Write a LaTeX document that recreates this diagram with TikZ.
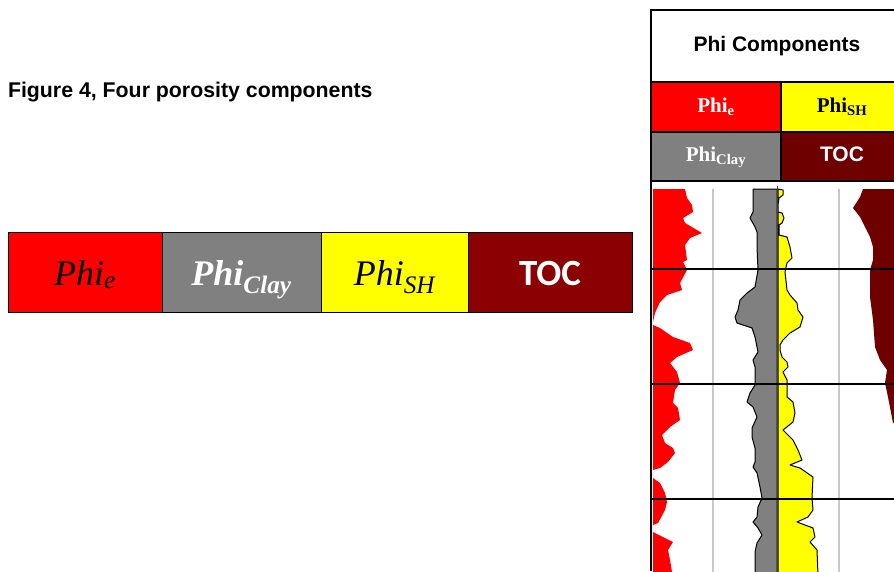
\documentclass[tikz,border=0pt]{standalone}
\usepackage{fontspec}
\setmainfont{Liberation Serif}
\setsansfont{Liberation Sans}
\newfontfamily\calfont{Carlito}
\usepackage{tikz}
\usetikzlibrary{positioning}
\definecolor{phired}{RGB}{255,0,0}
\definecolor{phigray}{RGB}{128,128,128}
\definecolor{phiyellow}{RGB}{255,255,0}
\definecolor{tocred}{RGB}{139,0,0}
\definecolor{tocdark}{RGB}{110,0,0}
\definecolor{gridgray}{RGB}{200,200,200}
\tikzset{%
	compbox/.style={draw, rectangle, minimum height=80, inner sep=0mm, outer sep=0pt, line width=1pt,%
		text height=26pt, text depth=0pt, font=\fontsize{36}{40}\selectfont\itshape},
	cell/.style={draw, rectangle, minimum width=130, minimum height=50, inner sep=0mm, outer sep=0pt,%
		line width=1.5pt, text height=12pt, text depth=2pt, font=\fontsize{21}{24}\selectfont\bfseries},
	header/.style={draw, rectangle, minimum width=252, minimum height=72, inner sep=0mm, outer sep=0pt,%
		line width=1.5pt, font=\sffamily\fontsize{21}{24}\selectfont\bfseries},
	gridline/.style={gridgray, line width=1.6pt},
	depthline/.style={black, line width=1.3pt},
	logcurve/.style={draw=black, line width=1pt, line join=round}
}
\begin{document}
\begin{tikzpicture}[x=1pt, y=-1pt]
	\useasboundingbox (0,0) rectangle (894,571);
	\clip (0,0) rectangle (894,571);
	\fill[white] (0,0) rectangle (894,571);

	\node[anchor=west, font=\sffamily\fontsize{21.3}{24}\selectfont\bfseries] (title) at (4.5,92) {Figure 4, Four porosity components};

	\node[compbox, fill=phired, minimum width=154, anchor=north west] (lphie) at (8,232) {Phi\textsubscript{e}};
	\node[compbox, fill=phigray, minimum width=159, right=0pt of lphie, text=white,%
		font=\fontsize{36}{40}\selectfont\bfseries\itshape] (lclay) {Phi\textsubscript{Clay}};
	\node[compbox, fill=phiyellow, minimum width=147, right=0pt of lclay] (lsh) {Phi\textsubscript{SH}};
	\node[compbox, fill=tocred, minimum width=164, right=0pt of lsh, text=white,%
		font=\calfont\fontsize{37}{40}\selectfont\bfseries] (ltoc) {TOC};

	\node[header, fill=white, anchor=north west] (comp) at (651,10) {Phi Components};
	\node[cell, fill=phired, text=white, below=0pt of comp.south west, anchor=north west] (cphie) {Phi\textsubscript{e}};
	\node[cell, fill=phiyellow, right=0pt of cphie, minimum width=122] (csh) {Phi\textsubscript{SH}};
	\node[cell, fill=phigray, text=white, below=0pt of cphie, minimum height=49] (cclay) {Phi\textsubscript{Clay}};
	\node[cell, fill=tocdark, text=white, right=0pt of cclay, minimum width=122, minimum height=49,%
		font=\sffamily\fontsize{21}{24}\selectfont\bfseries] (ctoc) {TOC};

	\coordinate (tracktop) at (651,189);
	\coordinate (trackbot) at (651,571);

	\fill[phired] (653,189) -- (685,189) -- (687,198) -- (692,205) -- (693,212) -- (683,218) -- (685,223)
		-- (702,233) -- (690,238) -- (685,245) -- (687,260) -- (683,262) -- (687,270) -- (680,283)
		-- (682,290) -- (667,295) -- (660,302) -- (655,313) -- (653,322) -- (653,325) -- (660,328)
		-- (673,337) -- (690,343) -- (693,350) -- (677,357) -- (670,363) -- (677,372) -- (680,383)
		-- (675,390) -- (673,403) -- (678,408) -- (680,420) -- (670,427) -- (662,435) -- (665,443)
		-- (673,448) -- (675,453) -- (668,462) -- (660,468) -- (653,470) -- (653,478) -- (660,483)
		-- (665,493) -- (667,502) -- (665,510) -- (658,523) -- (653,525) -- (653,532) -- (663,537)
		-- (673,542) -- (668,550) -- (670,560) -- (672,572) -- (653,572) -- cycle;

	\draw[logcurve, fill=phigray] (753,189) -- (753,212) -- (750,218) -- (755,227) -- (757,232) -- (757,247)
		-- (758,270) -- (755,287) -- (747,293) -- (740,300) -- (738,310) -- (735,317) -- (737,323)
		-- (752,328) -- (755,337) -- (757,347) -- (758,352) -- (753,360) -- (755,367) -- (755,385)
		-- (750,393) -- (747,402) -- (753,407) -- (757,417) -- (752,428) -- (752,437) -- (755,448)
		-- (755,462) -- (753,467) -- (757,473) -- (760,487) -- (762,498) -- (758,507) -- (757,517)
		-- (753,522) -- (758,528) -- (762,535) -- (757,543) -- (755,552) -- (755,575) -- (777,575)
		-- (777,189) -- cycle;

	\draw[logcurve, fill=phiyellow] (778,189) -- (783,190) -- (783,195) -- (779,198) -- (778,205) -- (778,212)
		-- (782,213) -- (784,218) -- (782,223) -- (779,225) -- (779,235) -- (787,237) -- (790,247)
		-- (792,258) -- (787,263) -- (785,272) -- (787,290) -- (790,295) -- (797,303) -- (798,310)
		-- (803,317) -- (800,327) -- (790,333) -- (783,340) -- (780,345) -- (780,350) -- (782,357)
		-- (787,362) -- (788,367) -- (783,372) -- (787,380) -- (787,397) -- (793,402) -- (795,413)
		-- (793,422) -- (783,430) -- (793,440) -- (798,450) -- (802,460) -- (790,465) -- (800,468)
		-- (813,477) -- (812,498) -- (813,510) -- (808,517) -- (797,522) -- (813,528) -- (815,537)
		-- (810,542) -- (817,550) -- (818,575) -- (778,575) -- cycle;

	\fill[tocdark] (863,189) -- (860,197) -- (853,208) -- (860,217) -- (865,227) -- (870,237) -- (873,247)
		-- (873,260) -- (870,270) -- (870,297) -- (873,320) -- (875,347) -- (880,360) -- (887,370)
		-- (885,383) -- (888,397) -- (893,423) -- (900,423) -- (900,189) -- cycle;

	\draw[gridline] (713,189) -- (713,575);
	\draw[gridline] (839,189) -- (839,575);
	\draw[black!75, line width=1.5pt] (777.5,186) -- (777.5,575);
	\foreach \d in {269,384,499}
		\draw[depthline] (651,\d) -- (900,\d);
	\draw[black, line width=1.5pt] (comp.north west) -- (trackbot);
\end{tikzpicture}
\end{document}
